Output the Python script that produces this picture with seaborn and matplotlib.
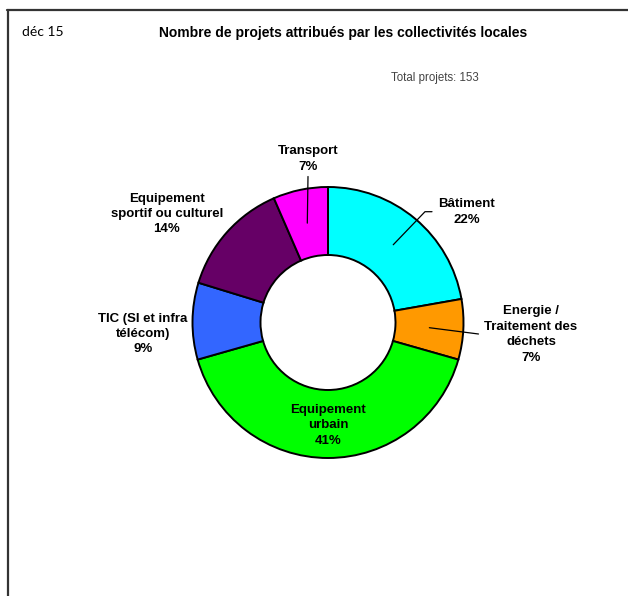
import numpy as np
import matplotlib
matplotlib.use("Agg")
import matplotlib.pyplot as plt
import seaborn as sns

# ---- data ----
categories = ["Bâtiment", "Energie /\nTraitement des\ndéchets", "Equipement\nurbain",
              "TIC (SI et infra\ntélécom)", "Equipement\nsportif ou culturel", "Transport"]
counts = [34, 11, 63, 14, 21, 10]
colors = ["#00FFFF", "#FF9900", "#00FF00", "#3366FF", "#660066", "#FF00FF"]
title = "Nombre de projets attribués par les collectivités locales"
date_label = "déc 15"
total_label = "Total projets: {}"

sns.set_theme(style="white")
plt.rcParams["font.family"] = ["Liberation Sans", "DejaVu Sans"]
plt.rcParams["text.color"] = "black"

W, H = 628, 596
fig = plt.figure(figsize=(W / 100, H / 100), dpi=100)
ax = fig.add_axes([0, 0, 1, 1])

def Y(y):
    return H - y

cx, cy = 328, Y(322.5)
R, width = 135.5, 68
palette = sns.color_palette(colors)

wedges, _ = ax.pie(counts, colors=palette, startangle=90, counterclock=False,
                   center=(cx, cy), radius=R,
                   wedgeprops=dict(width=width, edgecolor="black", linewidth=1.4))
ax.set_xlim(0, W)
ax.set_ylim(0, H)
ax.set_aspect("equal")
ax.axis("off")

total = sum(counts)
pcts = [int(round(100 * c / total)) for c in counts]
rmid = R - width / 2

def anchor(w):
    a = np.deg2rad((w.theta1 + w.theta2) / 2)
    return cx + rmid * np.cos(a), cy + rmid * np.sin(a)

# label text positions (pixel coords, block centres) and leader paths
label_pos = {
    0: (466.5, 212),
    1: (531, 334.5),
    2: None,
    3: (143, 334),
    4: (167, 214),
    5: (308, 159),
}
leaders = {
    0: [(425, 211.7), (432, 211.7)],
    1: [(478.5, 334)],
    5: [(308, 176.5)],
}

fs = 9.5
for i, (w, name, p) in enumerate(zip(wedges, categories, pcts)):
    txt = f"{name}\n{p}%"
    if label_pos[i] is None:
        x, y = anchor(w)
        y -= 1.5
    else:
        x, y = label_pos[i][0], Y(label_pos[i][1])
    ax.text(x, y, txt, ha="center", va="center", fontsize=fs, fontweight="bold",
            linespacing=1.38, color="black")
    if i in leaders:
        ax0, ay0 = anchor(w)
        xs = [ax0] + [p_[0] for p_ in leaders[i]]
        ys = [ay0] + [Y(p_[1]) for p_ in leaders[i]]
        ax.plot(xs, ys, color="black", lw=0.9)

fig.text(343 / W, 1 - 33 / H, title, ha="center", va="center", fontsize=10,
         fontweight="bold", color="black")
fig.text(22 / W, 1 - 32 / H, date_label, ha="left", va="center", fontsize=10,
         family=["Lato", "DejaVu Sans"], color="black")
fig.text(435 / W, 1 - 78 / H, total_label.format(total), ha="center", va="center",
         fontsize=8.3, color="#444444")

# frame lines
fig.add_artist(plt.Line2D([7 / W, 1], [1 - 9.8 / H, 1 - 9.8 / H], color="#333333",
                          lw=1.6, transform=fig.transFigure))
fig.add_artist(plt.Line2D([7.8 / W, 7.8 / W], [0, 1 - 9.8 / H], color="#333333",
                          lw=1.6, transform=fig.transFigure))

fig.savefig("out.png", dpi=100)
